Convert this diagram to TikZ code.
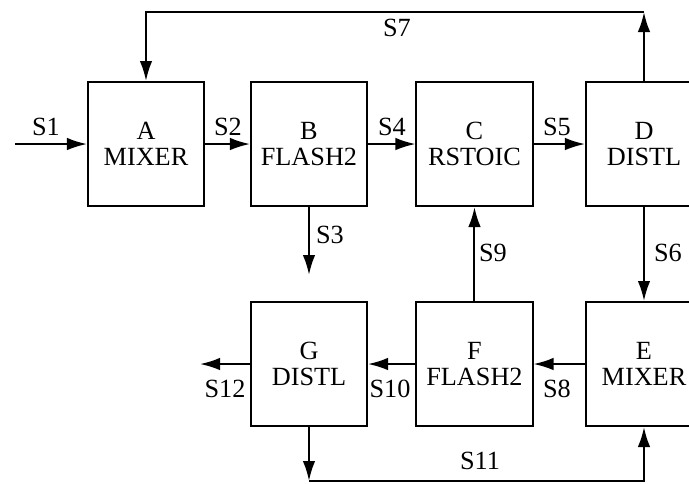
\documentclass[tikz,border=0pt]{standalone}
\usepackage{fontspec}
\setmainfont{Liberation Serif}
\usetikzlibrary{arrows.meta,calc}

\begin{document}
\begin{tikzpicture}[
    x=0.4pt, y=-0.4pt,
    unit/.style={draw, line width=0.8pt, minimum width=46.4pt, minimum height=49.6pt, inner sep=0pt, align=center, font=\fontsize{10.5}{10.5}\selectfont},
    lbl/.style={inner sep=0pt, font=\fontsize{10.5}{10.5}\selectfont},
    >={Latex[length=8pt,width=5pt]}
]
  \useasboundingbox (0,0) rectangle (689,483);
  \clip (0,0) rectangle (689,483);

  \node[unit] (A) at (146,144) {A\\MIXER};
  \node[unit] (B) at (309,144) {B\\FLASH2};
  \node[unit] (C) at (474.5,144) {C\\RSTOIC};
  \node[unit] (D) at (644,144) {D\\DISTL};
  \node[unit] (E) at (644,364) {E\\MIXER};
  \node[unit] (F) at (474.5,364) {F\\FLASH2};
  \node[unit] (G) at (309,364) {G\\DISTL};

  \coordinate (feed) at (15,144);
  \coordinate (top) at (0,12);
  \coordinate (bot) at (0,481);
  \coordinate (s3end) at (309,275);
  \coordinate (prod) at (200,364);

  \draw[->, line width=0.8pt] (feed) -- (A.west);
  \draw[->, line width=0.8pt] (A.east) -- (B.west);
  \draw[->, line width=0.8pt] (B.east) -- (C.west);
  \draw[->, line width=0.8pt] (C.east) -- (D.west);
  \draw[->, line width=0.8pt] (B.south) -- (s3end);
  \draw[->, line width=0.8pt] (D.south) -- (E.north);
  \draw[->, line width=0.8pt] (D.north) -- (D.north |- top);
  \draw[->, line width=0.8pt] (D.north |- top) -- (A.north |- top) -- (A.north);
  \draw[->, line width=0.8pt] (E.west) -- (F.east);
  \draw[->, line width=0.8pt] (F.north) -- (C.south);
  \draw[->, line width=0.8pt] (F.west) -- (G.east);
  \draw[->, line width=0.8pt] (G.west) -- (prod);
  \draw[->, line width=0.8pt] (G.south) -- (G.south |- bot);
  \draw[->, line width=0.8pt] (G.south |- bot) -- (E.south |- bot) -- (E.south);

  \node[lbl] (s1) at (46,127) {S1};
  \node[lbl] (s2) at (228,127) {S2};
  \node[lbl] (s4) at (392,127) {S4};
  \node[lbl] (s5) at (557,127) {S5};
  \node[lbl] (s7) at (397,28) {S7};
  \node[lbl] (s3) at (330,235) {S3};
  \node[lbl] (s9) at (493,253) {S9};
  \node[lbl] (s6) at (668,253) {S6};
  \node[lbl] (s12) at (225,389) {S12};
  \node[lbl] (s10) at (390,389) {S10};
  \node[lbl] (s8) at (557,389) {S8};
  \node[lbl] (s11) at (480,461) {S11};
\end{tikzpicture}
\end{document}
